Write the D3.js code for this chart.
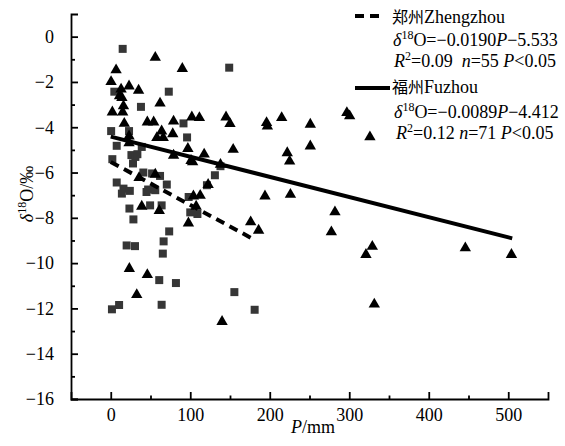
<!DOCTYPE html>
<html>
<head>
<meta charset="utf-8">
<script src="https://cdn.jsdelivr.net/npm/d3@7"></script>
</head>
<body style="margin:0">
<svg id="chart" width="565" height="446"></svg>
<script>
// Zhengzhou samples: precipitation P (mm) and δ18O (‰)
const zhengzhouP = [15, 149, 4.5, 73, 38, 91.5, 0.5, 23, 96, 7.5, 39, 2, 26, 31, 28, 33.5,
  131, 138, 41, 52, 62, 70.5, 7.5, 16, 24, 14, 47, 56, 45, 121, 98, 100, 109, 23.5, 49.5,
  64, 28.5, 73.5, 66.5, 20, 30.5, 65.5, 61, 82, 155.5, 10.5, 1.5, 64, 181];
const zhengzhouD18O = [-0.54, -1.37, -2.43, -2.43, -3.10, -3.83, -4.17, -4.17, -4.45, -4.82,
  -4.87, -5.41, -5.23, -5.31, -5.60, -5.19, -6.12, -5.72, -6.00, -6.04, -6.15, -6.53, -6.44,
  -6.71, -6.81, -6.93, -6.75, -6.78, -6.86, -6.56, -7.08, -7.76, -7.83, -7.59, -7.45, -7.45,
  -8.07, -8.60, -9.04, -9.22, -9.25, -9.58, -10.75, -10.88, -11.28, -11.85, -12.04, -11.84, -12.06];

// Fuzhou samples
const fuzhouP = [56, 6.7, 90, 0.4, 23, 13, 11, 14, 35, 62, 16, 2, 15, 17, 46, 54, 79, 102,
  111.5, 145, 150, 64, 78, 58, 66, 23, 23, 97, 154, 117.5, 79, 101, 103, 138, 56, 35.6, 122.5,
  104, 112.5, 107.4, 97.7, 39, 61, 176, 186, 23.4, 46, 32.7, 140, 196, 197, 215, 251, 297,
  300.5, 326, 251, 222, 225, 194, 226, 282, 277.5, 329, 321, 446, 504, 331.5];
const fuzhouD18O = [-0.88, -1.43, -1.37, -1.95, -2.14, -2.28, -2.58, -2.65, -2.33, -2.90,
  -3.02, -3.29, -3.29, -3.79, -3.73, -3.73, -3.69, -3.51, -3.54, -3.51, -3.80, -4.13, -4.25,
  -4.42, -4.42, -4.35, -4.65, -4.90, -4.94, -5.15, -5.20, -5.43, -5.49, -5.60, -6.04, -6.19,
  -6.49, -7.00, -6.97, -7.45, -8.19, -7.45, -7.64, -8.14, -8.51, -10.20, -10.47, -11.35,
  -12.54, -3.76, -3.91, -3.54, -3.83, -3.32, -3.46, -4.39, -4.79, -5.09, -5.46, -7.00, -6.93,
  -7.70, -8.58, -9.22, -9.58, -9.29, -9.58, -11.77];

// Fitted lines: δ18O = slope * P + intercept, drawn over the fitted P range
const fitSlope = [-0.0190, -0.0089];
const fitIntercept = [-5.533, -4.412];
const fitRangeP = [[0, 180], [0, 505]];

// Axis ticks
const xMajorTicks = [0, 100, 200, 300, 400, 500];
const xMinorTicks = [50, 150, 250, 350, 450];
const yMajorTicks = [0, -2, -4, -6, -8, -10, -12, -14, -16];
const yMinorTicks = [-1, -3, -5, -7, -9, -11, -13, -15];

const serifFont = '"Liberation Serif", serif';
const cjkFont = '"Noto Sans CJK SC", sans-serif';
const fs = 18;

// Serif text settings, applied inline with priority
function serif(sel, size) {
  return sel.style("font-family", serifFont, "important").style("font-size", (size || fs) + "px", "important");
}

const svg = d3.select("#chart").attr("font-family", serifFont).attr("font-size", fs);
const plotLeft = 71, plotRight = 548, plotTop = 14, plotBottom = 399;

const x = d3.scaleLinear().domain([-50, 550]).range([plotLeft, plotRight]);
const y = d3.scaleLinear().domain([-16, 1]).range([plotBottom, plotTop]);

// Points: squares first, triangles on top
const sq = d3.symbol().type(d3.symbolSquare).size(64);
const tri = d3.symbol().type(d3.symbolTriangle).size(56);

svg.append("g").selectAll("path")
  .data(zhengzhouP.map((p, i) => [p, zhengzhouD18O[i]]))
  .join("path")
  .attr("d", sq)
  .attr("transform", d => `translate(${x(d[0])},${y(d[1])})`)
  .attr("fill", "#363636");

svg.append("g").selectAll("path")
  .data(fuzhouP.map((p, i) => [p, fuzhouD18O[i]]))
  .join("path")
  .attr("d", tri)
  .attr("transform", d => `translate(${x(d[0])},${y(d[1]) + 1})`)
  .attr("fill", "#000");

// Regression lines
const line = d3.line().x(d => x(d[0])).y(d => y(d[1]));
fitSlope.forEach((k, i) => {
  const pts = fitRangeP[i].map(p => [p, k * p + fitIntercept[i]]);
  svg.append("path")
    .attr("d", line(pts))
    .attr("fill", "none")
    .attr("stroke", "#000")
    .attr("stroke-width", 4)
    .attr("stroke-dasharray", i === 0 ? "9,6" : null);
});

// Axes with inward ticks
function styleAxis(g) {
  g.attr("font-family", null).attr("font-size", null);
  g.selectAll("path, line").attr("stroke", "#000").attr("stroke-width", 1.8);
  serif(g.selectAll("text").attr("fill", "#000"));
}

svg.append("g")
  .attr("transform", `translate(0,${plotBottom})`)
  .call(d3.axisBottom(x).tickValues(xMinorTicks).tickSizeInner(-3.5).tickSizeOuter(0).tickFormat(""))
  .call(g => g.select(".domain").remove())
  .call(styleAxis);
svg.append("g")
  .attr("transform", `translate(0,${plotBottom})`)
  .call(d3.axisBottom(x).tickValues(xMajorTicks).tickSizeInner(-7).tickSizeOuter(-7).tickPadding(9))
  .call(styleAxis);

svg.append("g")
  .attr("transform", `translate(${plotLeft},0)`)
  .call(d3.axisLeft(y).tickValues(yMinorTicks).tickSizeInner(-4).tickSizeOuter(0).tickFormat(""))
  .call(g => g.select(".domain").remove())
  .call(styleAxis);
svg.append("g")
  .attr("transform", `translate(${plotLeft},0)`)
  .call(d3.axisLeft(y).tickValues(yMajorTicks).tickSizeInner(-7).tickSizeOuter(-7).tickPadding(17))
  .call(styleAxis);

// Axis titles
const xTitle = serif(svg.append("text")
  .attr("x", 313).attr("y", 433)
  .attr("text-anchor", "middle"));
serif(xTitle.append("tspan").attr("font-style", "italic").text("P"));
serif(xTitle.append("tspan").text("/mm"));

const yTitle = serif(svg.append("text")
  .attr("transform", "translate(33,194) rotate(-90)")
  .attr("text-anchor", "middle"));
serif(yTitle.append("tspan").attr("font-style", "italic").text("δ"));
serif(yTitle.append("tspan").attr("dy", -7).text("18"), 12);
serif(yTitle.append("tspan").attr("dy", 7).text("O/‰"));

// Legend
const lg = svg.append("g");
lg.append("line").attr("x1", 355).attr("x2", 380).attr("y1", 16).attr("y2", 16)
  .attr("stroke", "#000").attr("stroke-width", 4).attr("stroke-dasharray", "9,6");
lg.append("line").attr("x1", 355).attr("x2", 390).attr("y1", 88).attr("y2", 88)
  .attr("stroke", "#000").attr("stroke-width", 4);

function addRow(yPos, xPos, parts) {
  const t = serif(lg.append("text").attr("x", xPos).attr("y", yPos))
    .style("white-space", "pre");
  parts.forEach(([s, kind]) => {
    const ts = t.append("tspan").text(s);
    if (kind === "cjk") {
      ts.style("font-family", cjkFont, "important").style("font-size", "16px", "important");
      return;
    }
    serif(ts, kind === "sup" ? 12 : fs);
    if (kind === "i") ts.attr("font-style", "italic");
    if (kind === "sup") ts.attr("dy", -7);
    if (kind === "after") ts.attr("dy", 7);
  });
}

addRow(23, 392, [["郑州", "cjk"], ["Zhengzhou", ""]]);
addRow(45.5, 393, [["δ", "i"], ["18", "sup"], ["O=−0.0190", "after"], ["P", "i"], ["−5.533", ""]]);
addRow(66.5, 394, [["R", "i"], ["2", "sup"], ["=0.09  ", "after"], ["n", "i"], ["=55 ", ""], ["P", "i"], ["<0.05", ""]]);
addRow(93, 392, [["福州", "cjk"], ["Fuzhou", ""]]);
addRow(117.5, 394, [["δ", "i"], ["18", "sup"], ["O=−0.0089", "after"], ["P", "i"], ["−4.412", ""]]);
addRow(139, 396, [["R", "i"], ["2", "sup"], ["=0.12 ", "after"], ["n", "i"], ["=71 ", ""], ["P", "i"], ["<0.05", ""]]);
</script>
</body>
</html>
